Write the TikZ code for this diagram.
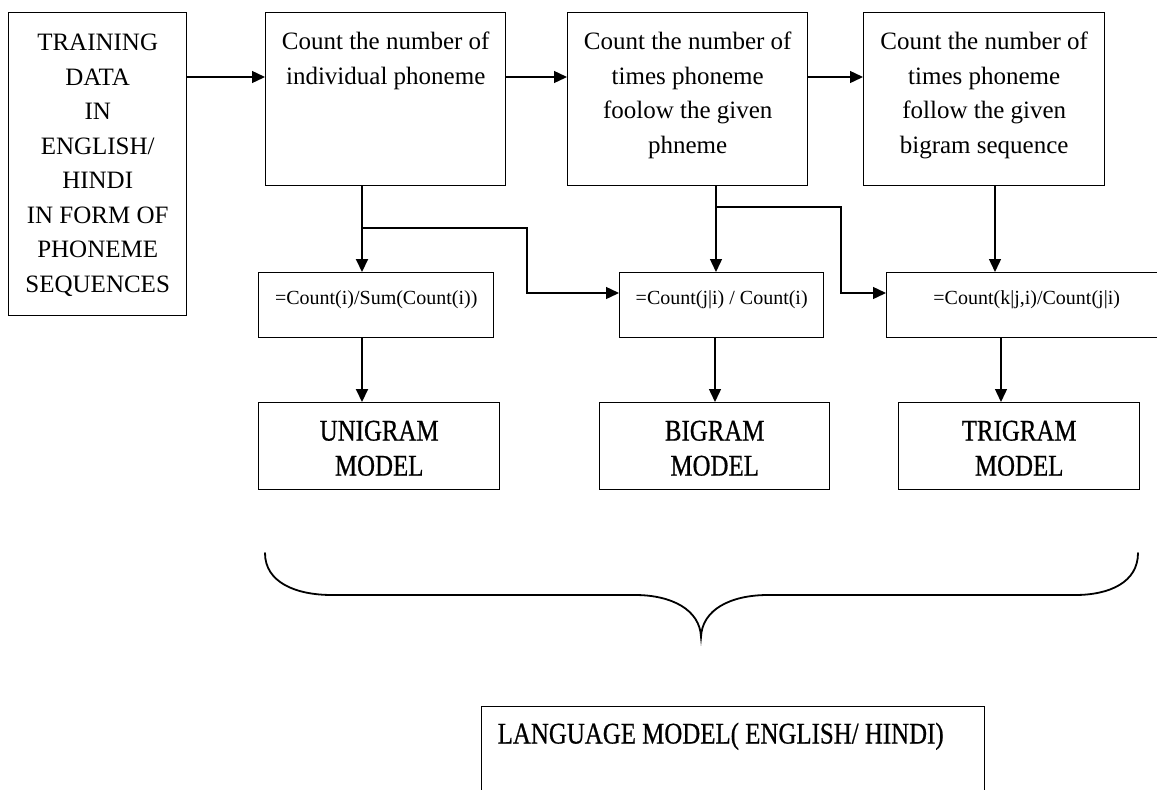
\documentclass[tikz,border=0pt]{standalone}
\usepackage{fontspec}
\setmainfont{Liberation Serif}
\newfontfamily\narrowfont[FakeStretch=0.83,FakeBold=0.6]{Liberation Serif}
\usetikzlibrary{arrows.meta}
% fixed-size box content: height, width, top padding, font, text (top aligned, centred)
\newcommand{\boxtext}[5]{\parbox[c][#1][t]{#2}{#4\vspace*{#3}\centering #5}}
\begin{document}
\begin{tikzpicture}[x=1pt,y=-1pt,
  box/.style={draw,line width=1.4pt,inner sep=0pt,anchor=north west},
  conn/.style={line width=1.4pt,-{Triangle[length=13pt,width=12pt]}},
  heavy/.style={line width=2pt},
  brace/.style={line width=1.8pt,line cap=round}]
\clip (0,0) rectangle (1157,790);
\fill[white] (0,0) rectangle (1157,790);

% input data
\node[box] (train) at (8,12) {\boxtext{303pt}{178pt}{21.5pt}{\fontsize{25pt}{34.5pt}\selectfont}{TRAINING\\DATA\\IN\\ENGLISH/\\HINDI\\IN FORM OF\\PHONEME\\SEQUENCES}};

% counting steps
\node[box] (box1) at (265,12) {\boxtext{173pt}{240pt}{19pt}{\fontsize{25pt}{34.8pt}\selectfont}{Count the number of\\individual phoneme}};
\node[box] (box2) at (567,12) {\boxtext{173pt}{240pt}{19pt}{\fontsize{25pt}{34.8pt}\selectfont}{Count the number of\\times phoneme\\foolow the given\\phneme}};
\node[box] (box3) at (863,12) {\boxtext{173pt}{241pt}{19pt}{\fontsize{25pt}{34.8pt}\selectfont}{Count the number of\\times phoneme\\follow the given\\bigram sequence}};

% probability formulas
\node[box] (f1) at (258,272) {\boxtext{65pt}{235pt}{17.5pt}{\fontsize{20pt}{24pt}\selectfont}{=Count(i)/Sum(Count(i))}};
\node[box] (f2) at (619,272) {\boxtext{65pt}{204pt}{17.5pt}{\fontsize{20pt}{24pt}\selectfont}{=Count(j|i) / Count(i)}};
\node[box] (f3) at (886,272) {\boxtext{65pt}{280pt}{17.5pt}{\fontsize{20pt}{24pt}\selectfont}{=Count(k|j,i)/Count(j|i)}};

% n-gram models
\node[box] (uni) at (258,402) {\boxtext{87pt}{241pt}{18pt}{\narrowfont\fontsize{30pt}{35pt}\selectfont}{UNIGRAM\\MODEL}};
\node[box] (bi) at (599,402) {\boxtext{87pt}{230pt}{18pt}{\narrowfont\fontsize{30pt}{35pt}\selectfont}{BIGRAM\\MODEL}};
\node[box] (tri) at (898,402) {\boxtext{87pt}{241pt}{18pt}{\narrowfont\fontsize{30pt}{35pt}\selectfont}{TRIGRAM\\MODEL}};

% combined language model
\node[box] (lang) at (481,706) {\parbox[c][100pt][t]{503pt}{\narrowfont\fontsize{30pt}{36pt}\selectfont\vspace*{16pt}\hspace*{16pt}LANGUAGE MODEL( ENGLISH/ HINDI)}};

% routing points
\coordinate (ry) at (0,77);
\coordinate (r2) at (0,293);
\coordinate (j1) at (362,228);
\coordinate (k1) at (527,228);
\coordinate (j2) at (716,207);
\coordinate (k2) at (841,207);
\coordinate (c3) at (995,0);
\coordinate (d2) at (715,0);
\coordinate (d3) at (1001,0);

% top row flow
\draw[conn] (train.east |- ry) -- (box1.west |- ry);
\draw[conn] (box1.east |- ry) -- (box2.west |- ry);
\draw[conn] (box2.east |- ry) -- (box3.west |- ry);

% counts to formulas
\draw[conn,heavy] (box1.south -| j1) -- (f1.north -| j1);
\draw[conn] (j1) -- (k1) -- (k1 |- r2) -- (f2.west |- r2);
\draw[conn] (box2.south -| j2) -- (f2.north -| j2);
\draw[conn] (j2) -- (k2) -- (k2 |- r2) -- (f3.west |- r2);
\draw[conn] (box3.south -| c3) -- (f3.north -| c3);

% formulas to models
\draw[conn,heavy] (f1.south -| j1) -- (uni.north -| j1);
\draw[conn] (f2.south -| d2) -- (bi.north -| d2);
\draw[conn] (f3.south -| d3) -- (tri.north -| d3);

% brace grouping the three models
\draw[brace] (265,553) .. controls (265,582) and (295,595) .. (332,595) -- (635,595)
  .. controls (672,595) and (700,610) .. (701,637)
  .. controls (702,610) and (730,595) .. (768,595) -- (1075,595)
  .. controls (1110,595) and (1138,582) .. (1138,553);
\end{tikzpicture}
\end{document}
